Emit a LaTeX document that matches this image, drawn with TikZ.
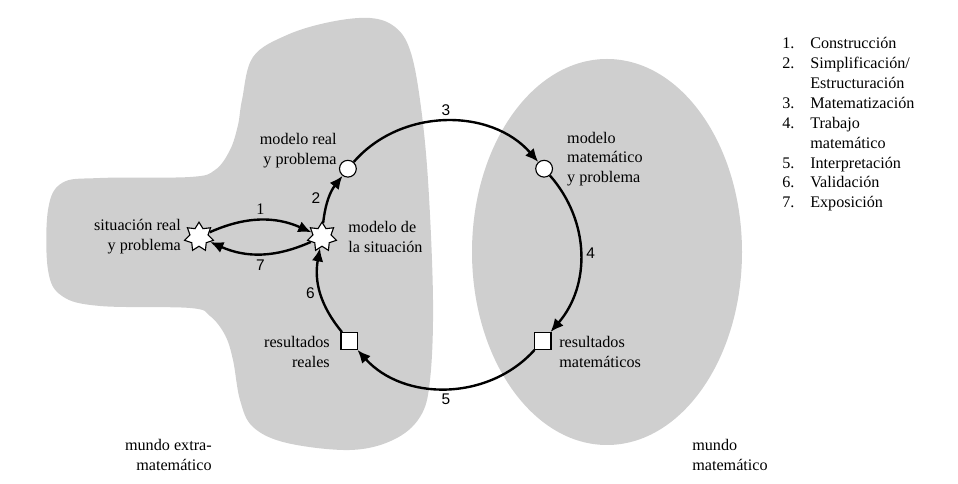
\documentclass[tikz,border=0pt]{standalone}
\usepackage{fontspec}
\setmainfont{Liberation Serif}
\newfontfamily\numfont{Liberation Sans}
\usepackage{tikz}
\usetikzlibrary{arrows.meta,positioning,calc,shapes.geometric}
\definecolor{worldgray}{gray}{0.81}
\tikzset{
    %Define standard arrow tip
    >={Latex[length=3.3mm,width=2.9mm]},
    %Define style for texts
    lbl/.style={
           inner sep=0pt,
           font=\fontsize{11.5}{14.2}\selectfont},
    % Define arrow style
    pil/.style={
           ->,
           line width=1.7pt},
    % Define style for arrow numbers
    num/.style={
           font=\numfont\fontsize{11}{13}\selectfont}
}

\begin{document}
\begin{tikzpicture}
	\tikzstyle{circ} = [circle, draw, fill=white, line width=0.8pt, minimum size=0.42cm, inner sep=0pt]
	\tikzstyle{sq} = [rectangle, draw, fill=white, line width=0.8pt, minimum size=0.42cm, inner sep=0pt]
	\tikzstyle{burst} = [star, star points=7, star point ratio=1.6, draw, fill=white, line width=0.8pt, minimum size=0.74cm, inner sep=0pt]

	\useasboundingbox (0,0) rectangle (23.95,12.1);

	% Worlds
	\fill[worldgray] plot[smooth cycle, tension=0.6] coordinates {
		(6.05,9.6) (6.325,10.675) (7.175,11.225) (8.25,11.55) (9.25,11.65)
		(9.875,11.425) (10.25,10.85) (10.5,9.6) (10.7,7.6) (10.825,4.6)
		(10.75,2.6) (10.5,1.675) (9.825,1.1) (8.75,0.85) (7.175,1.025)
		(6.325,1.425) (6.0,2.1) (5.825,3.1) (5.625,3.725) (5.25,4.2)
		(4.75,4.4) (2.5,4.45) (1.55,4.7) (1.2,5.35) (1.2,6.85)
		(1.55,7.525) (2.5,7.65) (4.75,7.675) (5.375,7.85) (5.75,8.35)
		(5.95,8.975)};
	\fill[worldgray] (15.175,5.8) ellipse (3.375 and 4.825);

	% Cycle nodes
	\coordinate (c) at (11.15,5.75);
	\node[circ] (mr) at ($(c)+(139:3.25)$) {};
	\node[circ] (mm) at ($(c)+(41:3.25)$) {};
	\node[sq] (rm) at ($(c)+(-42:3.25)$) {};
	\node[sq] (rr) at ($(c)+(-138:3.25)$) {};
	\node[burst] (ms) at (8.05,6.175) {};
	\node[burst] (sr) at (4.975,6.175) {};

	% Texts
	\node[lbl, align=right, anchor=east] (mr-txt) at ($(mr)+(-0.275,0.445)$) {modelo real\\y problema};
	\node[lbl, align=left, anchor=west] (mm-txt) at ($(mm)+(0.57,0.24)$) {modelo\\matemático\\y problema};
	\node[lbl, align=left, anchor=west] (rm-txt) at ($(rm)+(0.41,-0.275)$) {resultados\\matemáticos};
	\node[lbl, align=right, anchor=east] (rr-txt) at ($(rr)+(-0.485,-0.275)$) {resultados\\reales};
	\node[lbl, align=left, right=0.355cm of ms] (ms-txt) {modelo de\\la situación};
	\node[lbl, align=right, left=0.15cm of sr] (sr-txt) {situación real\\y problema};
	\node[lbl, align=right, anchor=east] (extra) at (5.3,0.725) {mundo extra-\\matemático};
	\node[lbl, align=left, anchor=west] (mat) at (17.3,0.725) {mundo\\matemático};

	% Cycle
	\path[pil] (mr) edge[bend left=49] node[num, above] {3} (mm)
	           (mm) edge[bend left=41] node[num, right] {4} (rm)
	           (rm) edge[bend left=48] node[num, below] {5} (rr)
	           (rr) edge[bend left=25] node[num, left=0pt] {6} (ms)
	           (ms) edge[bend left=16] node[num, left=2pt] {2} (mr);

	\path[pil] (sr) edge[bend left=24] node[lbl, above=3pt] {1} (ms)
	           (ms) edge[bend left=24] node[num, below] {7} (sr);

	% Legend
	\node[lbl, anchor=north west] (legend) at (19.55,11.25) {%
		\begin{tabular}{@{}p{0.7cm}@{}l@{}}
		1. & Construcción\\
		2. & Simplificación/\\
		   & Estructuración\\
		3. & Matematización\\
		4. & Trabajo\\
		   & matemático\\
		5. & Interpretación\\
		6. & Validación\\
		7. & Exposición
		\end{tabular}};
\end{tikzpicture}
\end{document}
